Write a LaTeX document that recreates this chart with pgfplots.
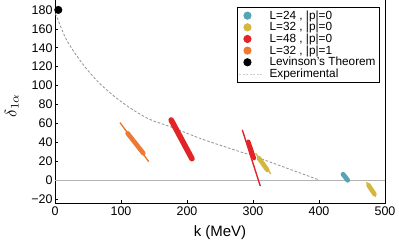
\documentclass[border=0pt]{standalone}
\usepackage{fontspec}
\setmainfont{Liberation Sans}
\usepackage{pgfplots}
\pgfplotsset{compat=1.18}
\definecolor{cteal}{RGB}{82,166,180}
\definecolor{cyel}{RGB}{213,182,62}
\definecolor{cred}{RGB}{226,36,40}
\definecolor{corg}{RGB}{236,122,50}
\pgfplotsset{
  bigmark/.style={legend image code/.code={\path[draw=none,fill=none] (-2pt,0pt) -- (24pt,0pt); \draw[##1] plot coordinates {(4pt,0pt)};}},
  dashleg/.style={legend image code/.code={\draw[##1] (-4pt,0pt) -- (20pt,0pt); \path[draw=none] (24pt,0pt) circle (0.1pt);}},
}
\begin{document}
\begin{tikzpicture}
\begin{axis}[
  name=ax,
  scale only axis, width=330pt, height=203pt,
  xmin=0, xmax=500, ymin=-24.4, ymax=190.5,
  clip=false,
  xtick={0,100,200,300,400,500},
  ytick={-20,0,20,40,60,80,100,120,140,160,180},
  yticklabels={−20,0,20,40,60,80,100,120,140,160,180},
  xticklabels={0,100,200,300,400,500},
  tick align=inside, xtick pos=bottom, ytick pos=left,
  major tick length=3pt,
  tick style={black, line width=0.6pt},
  axis line style={line width=1pt},
  tick label style={font=\fontsize{12.5}{13}\selectfont},
  yticklabel style={xshift=1pt},
  xlabel={\fontsize{15}{17}\selectfont k (MeV)},
  ylabel={\scalebox{1.65}{$\delta_{1\alpha}$}},
  xlabel style={at={(axis description cs:0.5,-0.146)}, anchor=center},
  ylabel style={at={(axis description cs:-0.131,0.48)}, anchor=center},
  legend style={at={(rel axis cs:0.985,0.967)}, anchor=north east, draw=black, line width=0.9pt,
    font=\fontsize{11.8}{12}\selectfont, row sep=-2.4pt, inner xsep=2pt, inner ysep=1.5pt,
    legend cell align=left},
]
\addlegendimage{only marks, mark=*, mark size=3.6pt, color=cteal, bigmark}
\addlegendentry{L=24 , |p|=0}
\addlegendimage{only marks, mark=*, mark size=3.6pt, color=cyel, bigmark}
\addlegendentry{L=32 , |p|=0}
\addlegendimage{only marks, mark=*, mark size=3.6pt, color=cred, bigmark}
\addlegendentry{L=48 , |p|=0}
\addlegendimage{only marks, mark=*, mark size=3.6pt, color=corg, bigmark}
\addlegendentry{L=32 , |p|=1}
\addlegendimage{only marks, mark=*, mark size=3.6pt, color=black, bigmark}
\addlegendentry{Levinson's Theorem\hspace{12pt}}
\addlegendimage{gray!40, dash pattern=on 2pt off 1.5pt, line width=0.5pt, dashleg}
\addlegendentry{Experimental}

% zero line
\addplot[gray!60, line width=0.7pt, forget plot] coordinates {(0,0) (500,0)};
% experimental curve
\addplot[gray!85, dash pattern=on 2.6pt off 1.8pt, line width=0.8pt, smooth, forget plot] coordinates {
 (0,176) (2.5,173) (17.7,148) (43,121.8) (68,102) (93.5,86.5) (118.6,74) (144,64) (174,56.5) (220,44) (260,34.5) (303,24.7) (350,12.8) (400,0)};

% orange L=32 |p|=1
\addplot[corg, line width=1.4pt, forget plot] coordinates {(98.5,60.7) (142,19.4)};
\addplot[corg, line width=4.6pt, line cap=round, forget plot] coordinates {(110,49.4) (133.8,28.3)};
% red L=48 near 200
\addplot[cred, line width=5.6pt, line cap=round, forget plot] coordinates {(176,63.5) (207.5,22.5)};
% red L=48 near 300
\addplot[cred, line width=1.4pt, forget plot] coordinates {(283.8,53) (311,-6.4)};
\addplot[cred, line width=4.2pt, line cap=round, forget plot] coordinates {(293,40.6) (301.5,23)};
% yellow L=32 near 310
\addplot[cyel, line width=1.4pt, forget plot] coordinates {(304,28.2) (327,6.4)};
\addplot[cyel, line width=4.6pt, line cap=round, forget plot] coordinates {(309,23) (321.7,10.6)};
% teal L=24
\addplot[cteal, line width=4.8pt, line cap=round, forget plot] coordinates {(436.5,6) (443.5,-0.3)};
% yellow L=32 near 480
\addplot[cyel, line width=1.4pt, forget plot] coordinates {(472,-2.4) (486,-17.7)};
\addplot[cyel, line width=4.6pt, line cap=round, forget plot] coordinates {(475,-5.5) (484,-15)};
% Levinson
\addplot[only marks, mark=*, mark size=3.8pt, black, forget plot] coordinates {(5,180)};
\end{axis}
\pgfresetboundingbox
\path ([shift={(-55pt,-45pt)}]ax.south west) rectangle ([shift={(14pt,0pt)}]ax.north east);
\end{tikzpicture}
\end{document}
